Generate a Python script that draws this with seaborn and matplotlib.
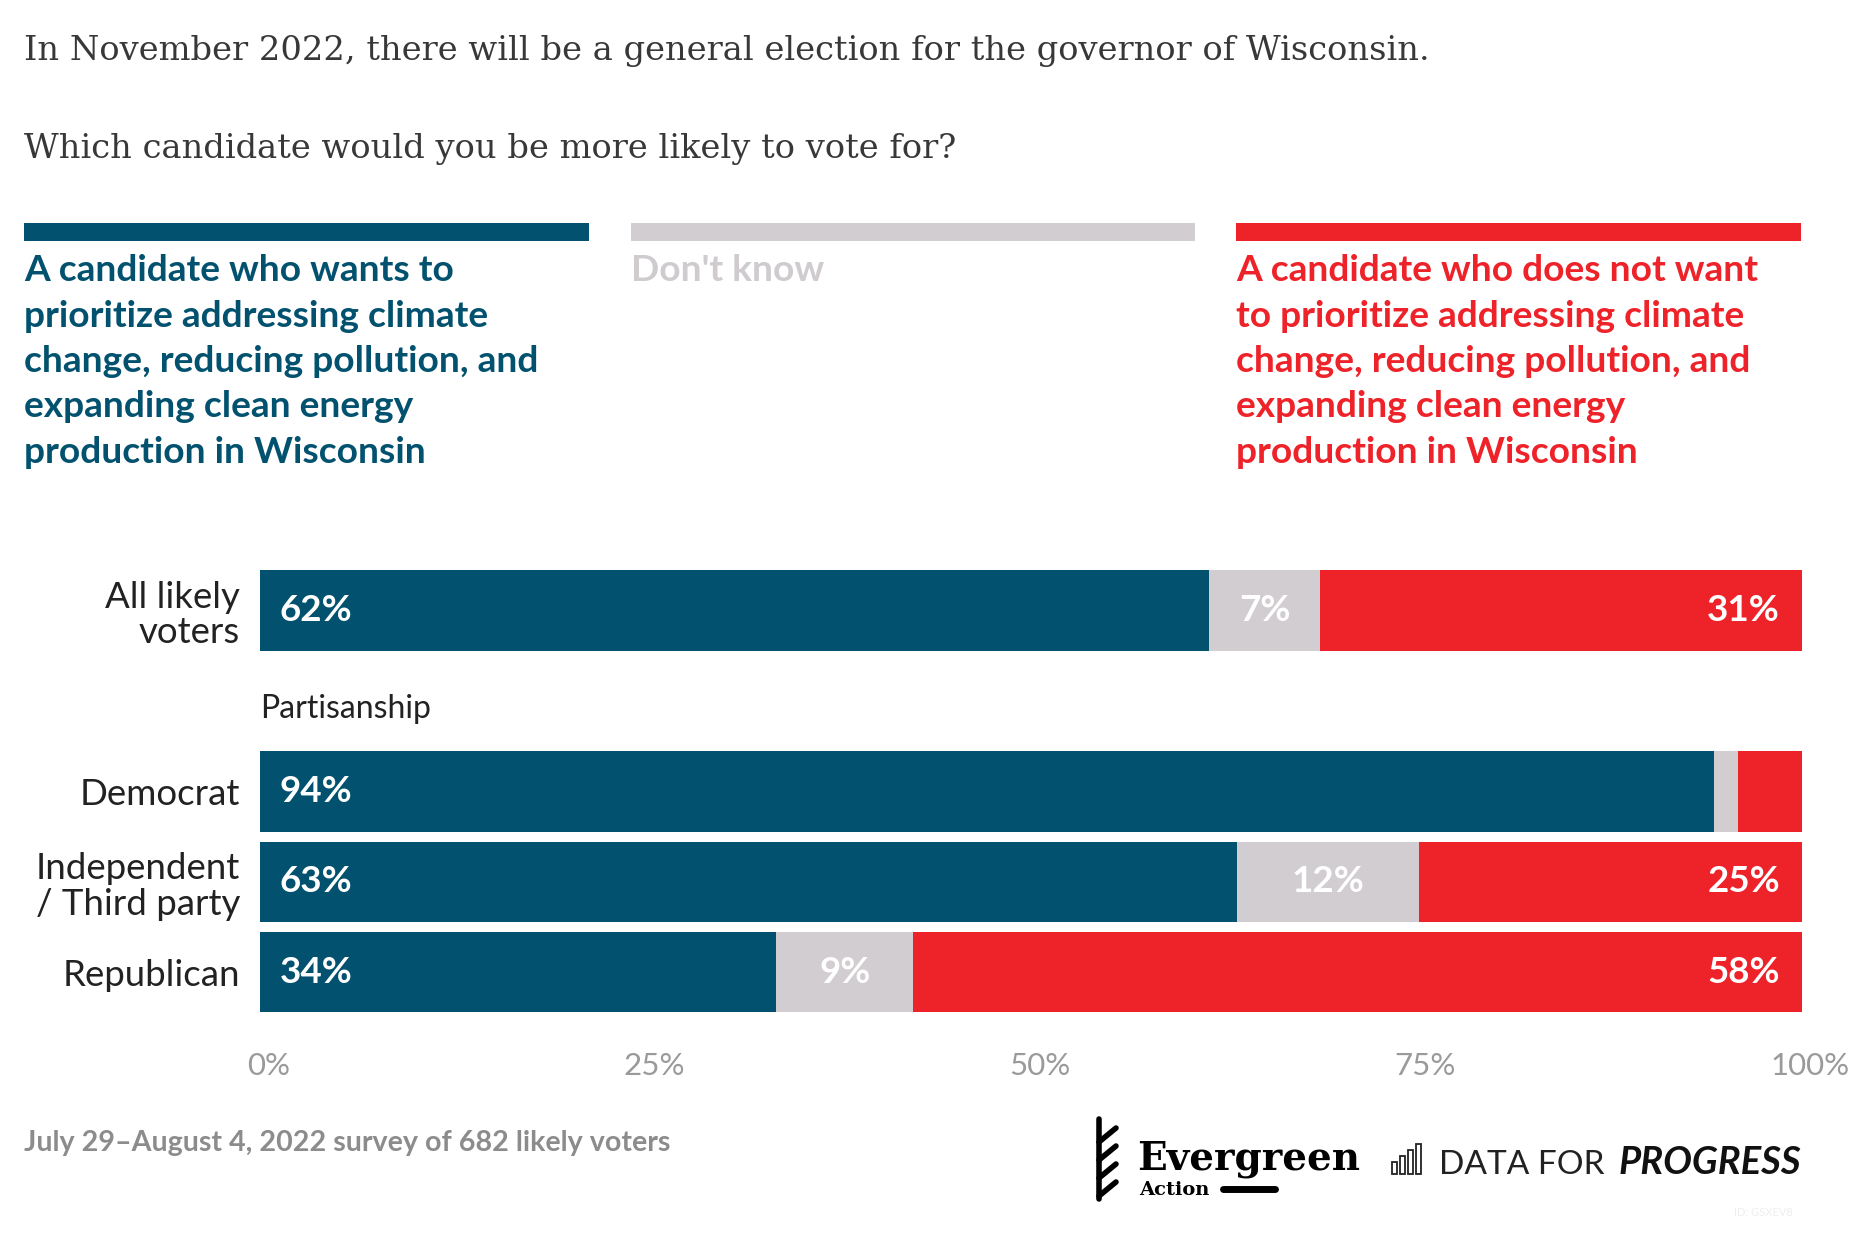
import matplotlib.pyplot as plt
import matplotlib.patches as mpatches
import matplotlib.lines as mlines
import matplotlib.transforms as mtransforms
import pandas as pd
import seaborn as sns

# survey values (percent; labels show them rounded)
groups = ["All likely\nvoters", "Democrat", "Independent\n/ Third party", "Republican"]
row_order = ["All likely\nvoters", "", "Democrat", "Independent\n/ Third party", "Republican"]
prioritize = [61.6, 94.3, 63.4, 33.5]
dont_know = [7.2, 1.6, 11.8, 8.9]
not_prioritize = [31.2, 4.1, 24.8, 57.6]

answers = [
    "A candidate who wants to\nprioritize addressing climate\nchange, reducing pollution, and\nexpanding clean energy\nproduction in Wisconsin",
    "Don't know",
    "A candidate who does not want\nto prioritize addressing climate\nchange, reducing pollution, and\nexpanding clean energy\nproduction in Wisconsin",
]
ticks = [0, 25, 50, 75, 100]
tick_labels = ["0%", "25%", "50%", "75%", "100%"]

BLUE = "#02526f"
GRAY = "#d1cdd0"
RED = "#ee2229"

sns.set_theme(style="white")
plt.rcParams["font.family"] = ["Lato", "DejaVu Sans"]

W, H = 1876, 1242
fig = plt.figure(figsize=(W / 100, H / 100), dpi=100)


def fx(px):
    return px / W


def fy(py):
    return 1 - py / H


df = pd.DataFrame({
    "group": groups,
    "blue": prioritize,
    "gray": dont_know,
    "red": not_prioritize,
})
df["blue_gray"] = df["blue"] + df["gray"]
df["total"] = df["blue_gray"] + df["red"]

ax = fig.add_axes([0.1384, 0.1808, 0.8219, 0.3639])

# stacked bars drawn as overlaid cumulative bars
for col, color in [("total", RED), ("blue_gray", GRAY), ("blue", BLUE)]:
    sns.barplot(
        data=df, x=col, y="group", order=row_order,
        color=color, saturation=1, width=0.89, linewidth=0,
        errorbar=None, orient="y", ax=ax
    )

ax.set_xlim(0, 100)
ax.set_ylim(4.5, -0.5)
ax.set_xlabel("")
ax.set_ylabel("")
sns.despine(ax=ax, left=True, bottom=True)

ax.set_xticks(ticks, tick_labels)
ax.tick_params(axis="x", length=0, pad=25, labelsize=22.5, labelcolor="#9a9a9a")
shift = mtransforms.ScaledTranslation(0.09, 0, fig.dpi_scale_trans)
for t in ax.get_xticklabels():
    t.set_transform(t.get_transform() + shift)
ax.set_yticks(range(len(row_order)), row_order)
ax.tick_params(axis="y", length=0, pad=14, labelsize=26.4, labelcolor="#222222")
for t in ax.get_yticklabels():
    t.set_linespacing(1.1)

# value labels
for g, b, gr, r in zip(groups, prioritize, dont_know, not_prioritize):
    row = row_order.index(g)
    ax.text(1.3, row, f"{b:.0f}%", ha="left", va="center",
            color="white", fontsize=26.5, fontweight="bold")
    if gr >= 5:
        ax.text(b + gr / 2, row, f"{gr:.0f}%", ha="center", va="center",
                color="white", fontsize=26.5, fontweight="bold")
    if r >= 5:
        ax.text(98.6, row, f"{r:.0f}%", ha="right", va="center",
                color="white", fontsize=26.5, fontweight="bold")

ax.text(0, 1.09, "Partisanship", ha="left", va="center",
        fontsize=23, color="#222222")

# title
fig.text(fx(24), fy(60), "In November 2022, there will be a general election for the governor of Wisconsin.",
         family="DejaVu Serif", fontsize=24.3, color="#383838", va="baseline")
fig.text(fx(24), fy(158), "Which candidate would you be more likely to vote for?",
         family="DejaVu Serif", fontsize=24.3, color="#383838", va="baseline")

# legend
legend_x = [(24, 589), (631, 1195), (1236, 1801)]
legend_col = [BLUE, GRAY, RED]
legend_txt = [BLUE, "#cfcbce", RED]
for (x0, x1), c, tc, label in zip(legend_x, legend_col, legend_txt, answers):
    fig.patches.append(mpatches.Rectangle(
        (fx(x0), fy(241)), fx(x1) - fx(x0), 18 / H,
        transform=fig.transFigure, color=c, linewidth=0))
    for k, line in enumerate(label.split("\n")):
        fig.text(fx(x0), fy(281 + 45.5 * k), line, fontsize=26.7,
                 fontweight="bold", color=tc, va="baseline")

# footer
fig.text(fx(24), fy(1151), "July 29\u2013August 4, 2022 survey of 682 likely voters",
         fontsize=20.6, fontweight="bold", color="#8c8c8c", va="baseline")

# Evergreen Action logo
fig.lines.append(mlines.Line2D([fx(1099), fx(1099)], [fy(1119), fy(1199)],
                               transform=fig.transFigure, color="black", lw=4))
for yy in [1128, 1146, 1164, 1182]:
    fig.lines.append(mlines.Line2D([fx(1099), fx(1116)], [fy(yy + 14), fy(yy)],
                                   transform=fig.transFigure, color="black", lw=4))
fig.text(fx(1137), fy(1169), "Evergreen", family="DejaVu Serif", fontweight="bold",
         fontsize=28, color="black", va="baseline")
fig.text(fx(1139), fy(1195), "Action", family="DejaVu Serif", fontweight="bold",
         fontsize=14, color="black", va="baseline")
fig.lines.append(mlines.Line2D([fx(1223), fx(1275)], [fy(1189), fy(1189)],
                               transform=fig.transFigure, color="black", lw=5))

# Data for Progress logo
for k, hh in enumerate([12, 18, 24, 30]):
    fig.patches.append(mpatches.Rectangle(
        (fx(1392 + k * 8), fy(1174)), 5 / W, hh / H,
        transform=fig.transFigure, fill=False, edgecolor="#222222", linewidth=1.3))
fig.text(fx(1439), fy(1174), "DATA FOR", fontsize=24, fontweight="normal",
         color="#222222", va="baseline")
fig.text(fx(1801), fy(1174), "PROGRESS", fontsize=27.5, fontweight="bold",
         style="italic", color="#111111", va="baseline", ha="right")
fig.text(fx(1793), fy(1216), "ID: GSXEV8", fontsize=8, color="#eeeeee",
         va="baseline", ha="right")

fig.savefig("out.png", dpi=100, facecolor="white")
